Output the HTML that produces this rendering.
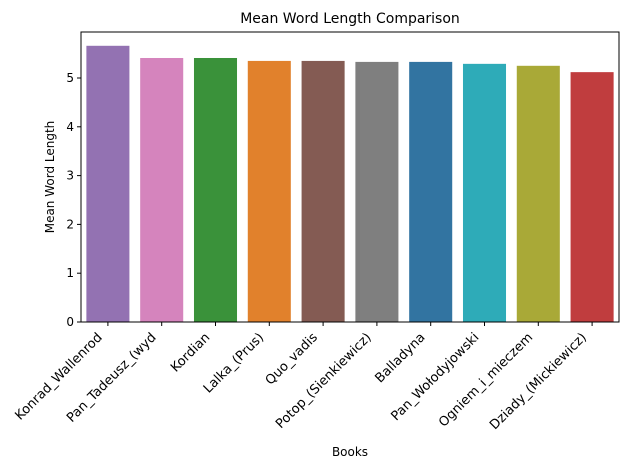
<!DOCTYPE html>
<html><head><meta charset="utf-8"><style>
body{margin:0;background:#fff;font-family:"Liberation Sans","DejaVu Sans",sans-serif;}
</style></head><body>
<svg width="627" height="470" xmlns="http://www.w3.org/2000/svg" style="font-family:'DejaVu Sans','Liberation Sans',sans-serif">
<text x="350" y="23" text-anchor="middle" font-size="14">Mean Word Length Comparison</text>
<g id="bars"></g><g id="yt"></g><g id="xt"></g>
<rect x="81" y="32" width="538" height="290" fill="none" stroke="#000" stroke-width="1"/>
<text x="350" y="456" text-anchor="middle" font-size="12">Books</text>
<text transform="translate(54,177) rotate(-90)" text-anchor="middle" font-size="12">Mean Word Length</text>
</svg>
<script>
const categories=["Konrad_Wallenrod","Pan_Tadeusz_(wyd","Kordian","Lalka_(Prus)","Quo_vadis","Potop_(Sienkiewicz)","Balladyna","Pan_Wołodyjowski","Ogniem_i_mieczem","Dziady_(Mickiewicz)"];
const values=[5.66,5.41,5.41,5.35,5.35,5.33,5.33,5.29,5.25,5.12];
const colors=["#9372b2","#d584bd","#3a923a","#e1812c","#845b53","#7f7f7f","#3274a1","#2eabb8","#a9a937","#c03d3e"];
const yTicks=[0,1,2,3,4,5];
const NS="http://www.w3.org/2000/svg";
const L=81,R=619,Y0=322,UNIT=48.8;
const band=(R-L)/categories.length;
const y=v=>Y0-v*UNIT;
const xc=i=>L+band*(i+0.5);
const bars=document.getElementById('bars'),yt=document.getElementById('yt'),xt=document.getElementById('xt');
categories.forEach((c,i)=>{
 const r=document.createElementNS(NS,'rect');
 const w=band*0.8;
 r.setAttribute('x',xc(i)-w/2);r.setAttribute('width',w);
 r.setAttribute('y',y(values[i]));r.setAttribute('height',Y0-y(values[i]));
 r.setAttribute('fill',colors[i]);
 
 
 bars.appendChild(r);
 const t=document.createElementNS(NS,'line');
 t.setAttribute('x1',xc(i));t.setAttribute('x2',xc(i));t.setAttribute('y1',Y0);t.setAttribute('y2',Y0+4);t.setAttribute('stroke','#000');
 xt.appendChild(t);
 const tx=document.createElementNS(NS,'text');
 tx.setAttribute('transform',`translate(${xc(i)-5},${Y0+16}) rotate(-45)`);
 tx.setAttribute('text-anchor','end');tx.setAttribute('font-size','13');
 tx.textContent=c;
 
 
 xt.appendChild(tx);
});
yTicks.forEach(v=>{
 const t=document.createElementNS(NS,'line');
 t.setAttribute('x1',L-4);t.setAttribute('x2',L);t.setAttribute('y1',y(v));t.setAttribute('y2',y(v));t.setAttribute('stroke','#000');
 yt.appendChild(t);
 const tx=document.createElementNS(NS,'text');
 tx.setAttribute('x',L-7);tx.setAttribute('y',y(v)+4);tx.setAttribute('text-anchor','end');tx.setAttribute('font-size','12');
 tx.textContent=v;
 
 
 yt.appendChild(tx);
});
</script>
</body></html>
